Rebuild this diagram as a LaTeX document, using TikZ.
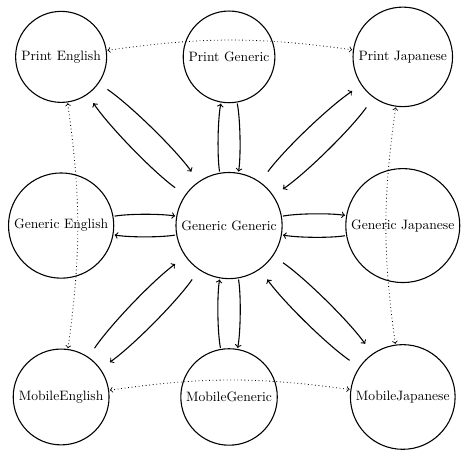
\documentclass[tikz,border=0pt]{standalone}
\usetikzlibrary{fit}

\begin{document}
\begin{tikzpicture}[
  lang/.style={circle, draw, thick},
  box/.style={rectangle, inner sep=0pt},
  link/.style={->, thick, bend left=10, looseness=0.6},
  pair/.style={<->, semithick, dotted, bend left=8}
]
\useasboundingbox (0, 0) rectangle (12.07, -11.84);
% print row
\node [lang] (pe) at (1.58, -1.47) {Print English};
\node [lang] (pg) at (5.92, -1.47) {Print Generic};
\node [lang] (pj) at (10.41, -1.47) {Print Japanese};
% generic row
\node [lang] (ge) at (1.58, -5.83) {Generic English};
\node [lang] (gg) at (5.92, -5.83) {Generic Generic};
\node [lang] (gj) at (10.41, -5.83) {Generic Japanese};
% mobile row
\node [lang] (me) at (1.58, -10.26) {MobileEnglish};
\node [lang] (mg) at (5.92, -10.26) {MobileGeneric};
\node [lang] (mj) at (10.41, -10.26) {MobileJapanese};
% square frames round the circles
\foreach \n in {pe, pg, pj, ge, gg, gj, me, mg, mj}
  \node [box, fit=(\n.north) (\n.south) (\n.east) (\n.west)] (\n-b) {};
\foreach \n in {pe, pg, pj, ge, gj, me, mg, mj} {
  \draw [link] (\n-b) to (gg-b);
  \draw [link] (gg-b) to (\n-b);
}
\draw [pair] (pe-b) to (pj-b);
\draw [pair] (pe-b) to (me-b);
\draw [pair] (me-b) to (mj-b);
\draw [pair] (mj-b) to (pj-b);
\end{tikzpicture}
\end{document}
